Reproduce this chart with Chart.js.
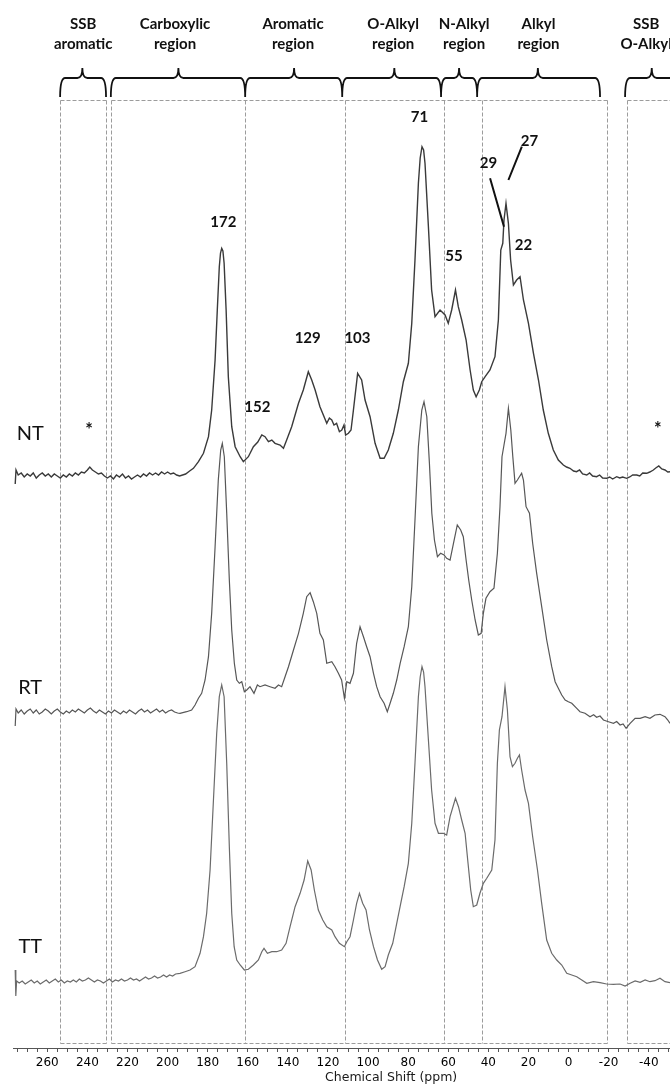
<!DOCTYPE html>
<html>
<head>
<meta charset="utf-8">
<title>13C CPMAS NMR spectra NT / RT / TT</title>
<script src="https://cdn.jsdelivr.net/npm/chart.js@4.4.0/dist/chart.umd.min.js"></script>
<style>
    html, body { margin: 0; padding: 0; background: #fff; }
    #wrap { width: 670px; height: 1090px; position: relative; }
</style>
</head>
<body>
<div id="wrap"><canvas id="nmr-chart"></canvas></div>
<script>
// Axis labels (ppm)
const shiftTicks = [260, 240, 220, 200, 180, 160, 140, 120, 100, 80, 60, 40, 20, 0, -20, -40];

// NT spectrum: chemical shift (ppm) and intensity
const ntShift = [
    276.0, 275.6, 274.5, 273.0, 271.5, 270.0, 268.5, 267.0, 265.5, 264.0,
    262.5, 261.0, 259.5, 258.0, 256.5, 255.0, 253.5, 252.0, 250.5, 249.0,
    247.5, 246.0, 244.5, 243.0, 241.5, 240.0, 238.8, 237.5, 236.0, 234.5,
    233.0, 231.5, 230.0, 228.5, 227.0, 225.5, 224.0, 222.5, 221.0, 219.5,
    218.0, 216.5, 215.0, 213.5, 212.0, 210.5, 209.0, 207.5, 206.0, 204.5,
    203.0, 201.5, 200.0, 198.5, 197.0, 195.5, 194.0, 191.0, 189.0, 187.1,
    184.6, 182.1, 179.6, 178.0, 176.3, 175.2, 174.2, 173.6, 173.0, 172.4, 171.8, 170.8,
    169.7, 168.0, 166.3, 163.8, 162.2, 159.7, 157.2, 155.0, 153.0, 151.4,
    149.7, 148.0, 146.4, 143.9, 142.2, 140.6, 138.1, 134.7, 132.3, 129.8,
    128.1, 126.4, 124.0, 120.6, 119.3, 118.1, 117.0, 115.7, 114.3, 113.1,
    112.0, 111.2, 109.8, 108.5, 107.3, 105.2, 103.2, 101.5, 99.0, 96.5,
    94.0, 92.0, 89.9, 87.4, 84.9, 82.4, 79.9, 78.2, 76.6, 74.9,
    74.0, 73.1, 72.3, 71.6, 69.9, 68.3, 66.6, 64.1, 61.6, 60.0, 58.3, 56.4,
    55.0, 53.3, 51.1, 49.1, 47.5, 46.1, 44.5, 43.3, 41.6, 39.2,
    36.7, 35.0, 33.8, 32.8, 32.2, 31.2, 30.0, 28.9, 27.5, 25.9,
    24.2, 22.5, 20.0, 17.5, 15.0, 12.6, 10.1, 7.6, 5.1, 2.6,
    1.0, -0.7, -2.5, -4.0, -5.5, -7.0, -9.1, -10.5, -12.0, -14.0,
    -15.5, -17.0, -19.0, -20.5, -22.0, -24.0, -25.5, -27.0, -29.0, -30.5,
    -32.0, -34.0, -35.5, -37.0, -39.0, -40.5, -42.3, -43.5, -45.0, -46.5,
    -48.1, -49.5, -50.6
];
const ntIntensity = [
    -8, 6, 1, 3, -1, 2, 0, 3, -2, 1,
    3, 0, 2, -1, 2, 0, -2, 1, -1, 2,
    0, 3, 1, 4, 3, 6, 9, 6, 4, 2,
    3, 0, -2, 0, -3, 1, -1, 2, -2, 0,
    -3, -1, 1, -1, 2, 0, 3, 1, 3, 1,
    4, 2, 4, 2, 3, 1, 0, 2, 5, 7.7,
    14.3, 22.7, 39.3, 66, 116, 166, 209.3, 223, 227.7, 225, 212.7, 166,
    99.3, 49.3, 29.3, 19.3, 14.3, 19.3, 29.3, 34, 41, 39.3,
    34.3, 36, 32.7, 31, 27.7, 36, 49.3, 72.7, 86, 104.3,
    96, 86, 69.3, 52.7, 58, 56, 51, 52.7, 44.3, 46,
    51, 41, 42.7, 46, 66, 102.7, 96, 76, 59.3, 32.7,
    17.7, 17.7, 26, 42.7, 66, 94.3, 112.7, 152.7, 216, 292.7,
    318, 329.3, 326, 312.7, 249.3, 186, 159.3, 166, 161, 152.7, 166, 186,
    169.3, 156, 136, 106, 86, 79.3, 86, 94.3, 99.3, 106,
    119.3, 156, 226, 232.7, 256, 272.7, 252.7, 216, 191, 196,
    199.3, 176, 152.7, 122.7, 96, 66, 42.7, 26, 16, 11,
    9, 7.7, 5, 4.3, 6, 2, 1, 3, 0, -0.7,
    1, -2, -2.3, -1, -3, -0.7, -2, -1, -2.3, -1,
    1, 1, 0, 3, 2.7, 4, 6, 8, 10, 7,
    6, 4, 4.3
];

// RT spectrum
const rtShift = [
    276.0, 275.6, 274.5, 273.0, 271.5, 270.0, 268.5, 267.0, 265.5, 264.0,
    262.5, 261.0, 259.5, 258.0, 256.5, 255.0, 253.5, 252.0, 250.5, 249.0,
    247.5, 246.0, 244.5, 243.0, 241.5, 240.0, 238.5, 237.0, 235.5, 234.0,
    232.5, 231.0, 229.5, 228.0, 226.5, 225.0, 223.5, 222.0, 220.5, 219.0,
    217.5, 216.0, 214.5, 213.0, 211.5, 210.0, 208.5, 207.0, 205.5, 204.0,
    202.5, 201.0, 199.5, 198.0, 196.5, 195.0, 193.8, 190.5, 188.0, 186.3,
    184.6, 183.0, 181.3, 179.6, 178.0, 176.3, 174.7, 173.5, 172.7, 171.7,
    170.5, 169.2, 168.0, 166.7, 165.5, 164.2, 163.0, 161.7, 160.5, 158.9,
    156.9, 155.2, 153.9, 151.4, 148.9, 146.4, 144.7, 143.1, 141.4, 139.7,
    137.2, 134.7, 132.3, 130.6, 128.9, 127.3, 125.6, 124.0, 122.3, 120.6,
    118.1, 116.5, 114.8, 113.2, 111.8, 110.6, 109.0, 107.3, 105.7, 104.0,
    102.3, 100.7, 99.0, 97.3, 95.7, 94.0, 92.0, 90.4, 89.0, 87.4,
    85.7, 84.0, 82.0, 79.9, 78.2, 76.6, 74.9, 73.2, 72.1, 70.7,
    69.4, 68.2, 66.9, 65.4, 63.8, 62.1, 60.8, 59.1, 57.4, 55.5,
    53.8, 52.5, 51.1, 49.8, 48.3, 46.6, 45.0, 43.6, 42.5, 41.2,
    39.2, 37.2, 35.5, 34.2, 33.2, 32.2, 31.2, 30.0, 28.8, 27.8,
    26.7, 25.5, 24.5, 23.4, 22.5, 21.2, 19.5, 17.9, 15.9, 13.4,
    10.9, 8.4, 6.7, 5.1, 3.4, 1.7, 0.1, -1.6, -4.1, -5.7,
    -8.2, -10.7, -12.5, -14.0, -15.7, -17.4, -19.9, -22.4, -24.0, -25.7,
    -27.2, -28.7, -30.7, -33.2, -35.7, -38.2, -40.6, -43.1, -45.6, -48.1,
    -49.5, -50.6
];
const rtIntensity = [
    -14, 3, -1, 2, -2, 1, 3, -1, 2, -2,
    0, 3, 1, -2, 1, 3, 0, -2, 1, -1,
    2, 0, 3, 1, -1, 2, 4, 1, -1, 2,
    0, -2, 1, -1, 2, 0, -2, 1, -1, 2,
    0, -2, 1, 3, 0, 2, -1, 1, 3, 0,
    2, -1, 1, 2, 0, -1, -1.3, 0.3, 2, 7,
    13.7, 18.7, 32, 55.3, 98.7, 165.3, 232, 262, 268.7, 255.3,
    198.7, 132, 82, 48.7, 32, 28.7, 30.3, 20.3, 22, 25.3,
    18.7, 27, 25.3, 27, 25.3, 23.7, 27, 25.3, 35.3, 45.3,
    62, 78.7, 98.7, 115.3, 119.3, 110.3, 98.7, 78.7, 72, 48.7,
    50.3, 45.3, 38.7, 32, 13.7, 30.3, 28.7, 38.7, 68.7, 85.3,
    75.3, 65.3, 55.3, 38.7, 25.3, 15.3, 8.7, 0.3, 8.7, 18.7,
    32, 48.7, 65.3, 85.3, 125.3, 192, 265.3, 302, 310.3, 295.3,
    248.7, 198.7, 172, 155.3, 158.7, 157, 153.7, 152, 168.7, 187,
    182, 175.3, 152, 132, 112, 92, 77, 78.7, 98.7, 113.7,
    120.3, 123.7, 158.7, 205.3, 255.3, 267, 278.7, 303.7, 282, 255.3,
    228.7, 232, 235.3, 238.7, 232, 205.3, 198.7, 168.7, 138.7, 105.3,
    72, 45.3, 30.3, 23.7, 17, 12, 10.3, 8.7, 3.7, 0.3,
    -1.3, -4.7, -2.7, -5.3, -4, -8, -9.7, -11.3, -9.5, -13,
    -12, -16.3, -11.3, -6.3, -6.3, -4.7, -6.3, -3, -2.3, -4.7,
    -8, -11.3
];

// TT spectrum
const ttShift = [
    276.0, 275.7, 275.3, 274.0, 272.5, 271.0, 269.5, 268.0, 266.5, 265.0,
    263.5, 262.0, 260.5, 259.0, 257.5, 256.0, 254.5, 253.0, 251.5, 250.0,
    248.5, 247.0, 245.5, 244.0, 242.5, 241.0, 239.5, 238.0, 236.5, 235.0,
    233.5, 232.0, 230.5, 229.0, 227.5, 226.0, 224.5, 223.0, 221.5, 220.0,
    218.5, 217.0, 215.5, 214.0, 212.5, 211.0, 209.5, 208.0, 206.5, 205.0,
    203.5, 202.0, 200.5, 199.0, 197.5, 196.0, 193.8, 191.3, 188.8, 186.3,
    183.8, 182.1, 180.5, 178.8, 177.2, 175.5, 174.2, 173.0, 171.8, 170.5,
    169.2, 168.0, 166.8, 165.5, 163.8, 161.7, 159.7, 157.2, 154.7, 153.0,
    151.9, 150.2, 148.0, 145.6, 143.1, 140.9, 138.9, 136.4, 133.9, 131.9,
    130.1, 128.4, 126.8, 124.8, 122.6, 120.6, 118.1, 116.5, 114.3, 111.8,
    110.6, 109.0, 107.3, 105.7, 104.3, 102.7, 101.0, 99.3, 97.3, 95.3,
    93.2, 91.5, 89.9, 87.7, 85.7, 83.7, 82.0, 79.9, 78.2, 76.6,
    74.9, 74.0, 73.1, 72.3, 71.6, 69.9, 68.3, 66.6, 64.9, 62.4, 60.8, 59.1,
    56.4, 54.9, 53.3, 51.6, 50.3, 48.8, 47.5, 45.8, 44.2, 42.5,
    40.8, 38.3, 36.7, 35.5, 34.5, 33.2, 31.7, 30.5, 29.2, 28.0,
    26.7, 25.5, 24.5, 23.4, 21.7, 20.0, 17.9, 15.5, 13.4, 10.9,
    8.4, 5.9, 3.4, 0.9, -1.6, -4.1, -6.6, -9.1, -12.4, -15.7,
    -19.0, -22.4, -25.7, -28.2, -30.7, -33.2, -35.7, -38.2, -40.6, -43.1,
    -45.6, -48.1, -50.6
];
const ttIntensity = [
    12, -14, 1, -1, 1, -2, 0, 2, -1, 1,
    -2, 0, 2, -1, 1, 3, 0, 2, -1, 1,
    0, 2, 0, 3, 1, 2, 4, 2, 0, 2,
    1, -1, 1, 3, 0, 2, 1, 3, 1, 2,
    4, 2, 3, 1, 3, 5, 3, 4, 6, 4,
    5, 7, 5, 7, 6, 8, 8.7, 10.3, 12, 15.3,
    28.7, 45.3, 68.7, 112, 178.7, 248.7, 285.3, 297, 285.3, 218.7,
    135.3, 68.7, 35.3, 22, 17, 12, 12.7, 17, 22, 30.3,
    33.7, 28.7, 30.3, 30.3, 32, 38.7, 55.3, 75.3, 88.7, 102,
    121, 112, 92, 72, 62, 55.3, 52, 45.3, 38.7, 35.3,
    40.3, 45.3, 62, 78.7, 88.7, 78.7, 72, 52, 35.3, 22,
    12.7, 15.3, 27, 38.7, 58.7, 78.7, 95.3, 118.7, 158.7, 218.7,
    285.3, 305, 315.3, 310, 295.3, 242, 192, 158.7, 148.7, 148.7, 147, 165.3,
    183.7, 175.3, 162, 148.7, 122, 92, 75.3, 77, 88.7, 98.7,
    103.7, 112, 142, 218.7, 252, 265.3, 295.3, 272, 225.3, 215.3,
    218.7, 223.7, 227, 212, 192, 178.7, 145.3, 112, 78.7, 42,
    28.7, 22, 17, 8.7, 7, 5.3, 2, -1.3, 0.3, -0.7,
    -2, -2.3, -2, -4, -1.3, 1, -0.3, 2, 0.3, 1.3,
    3.7, 0.3, -0.7
];

// Integration regions (ppm): braces, names and dashed boxes
const regionNames = [['SSB', 'aromatic'], ['Carboxylic', 'region'], ['Aromatic', 'region'],
    ['O-Alkyl', 'region'], ['N-Alkyl', 'region'], ['Alkyl', 'region'], ['SSB', 'O-Alkyl']];
const regionFrom = [253.6, 228.3, 161.3, 112.9, 63.6, 45.6, -28.2];
const regionTo = [230.7, 161.3, 112.9, 63.6, 45.6, -15.7, -75];
const braceTip = [242.5, 194.6, 136.9, 86.9, 54.6, 15.3, -41.5];
const regionLabelAt = [242.1, 196.3, 137.4, 87.5, 52.1, 15.0, -38.7];
const boxSpans = [[253.6, 230.7], [228.3, -19.2], [-29.2, -80]];
const boxDividers = [161.3, 111.5, 62.1, 43.1];

// Peak assignments drawn above the NT trace (ppm, chart level)
const peakText = ['172', '152', '129', '103', '71', '55', '29', '27', '22'];
const peakShift = [172.2, 155.2, 130.1, 105.3, 74.4, 57.1, 39.9, 19.5, 22.5];
const peakLevel = [825.7, 640.7, 710.3, 710.3, 930.7, 792, 884.7, 907.3, 803];
const leaderFrom = [[39.15, 869.7], [23.3, 901.3]];
const leaderTo = [[32.2, 821.3], [30.0, 868]];

// Spinning side band marks and trace names
const ssbMarkShift = [239.2, -44.5];
const ssbMarkLevel = [622, 623];
const traceNames = ['NT', 'RT', 'TT'];
const traceLabelLevel = [614, 360, 101];

// Layout
const X_MIN = -50.6, X_MAX = 277.1;
const baselineOffset = [572, 336, 66];
const traceColors = ['#3a3a3a', '#575757', '#6b6b6b'];
const traceWidths = [1.4, 1.2, 1.2];
const BOX_TOP = 100.5, BOX_BOTTOM = 1043.5;
const BRACE_END = 97, BRACE_MID = 78, BRACE_TIP = 68;

const axisTicks = [];
for (let v = -50; v <= 275; v += 5) axisTicks.push(v);

function toPoints(shift, intensity, offset) {
    return shift.map((x, i) => ({ x: x, y: intensity[i] + offset }));
}

function drawBrace(ctx, x1, x2, xt) {
    const r = 5;
    ctx.moveTo(x1, BRACE_END);
    ctx.quadraticCurveTo(x1, BRACE_MID, x1 + r, BRACE_MID);
    ctx.lineTo(xt - r, BRACE_MID);
    ctx.quadraticCurveTo(xt, BRACE_MID, xt, BRACE_TIP);
    ctx.moveTo(xt, BRACE_TIP);
    ctx.quadraticCurveTo(xt, BRACE_MID, xt + r, BRACE_MID);
    ctx.lineTo(x2 - r, BRACE_MID);
    ctx.quadraticCurveTo(x2, BRACE_MID, x2, BRACE_END);
}

const overlayPlugin = {
    id: 'overlay',
    beforeDatasetsDraw(chart) {
        const { ctx, scales: { x } } = chart;
        const px = v => Math.round(x.getPixelForValue(v)) + 0.5;
        ctx.save();
        ctx.strokeStyle = '#9c9c9c';
        ctx.lineWidth = 1;
        ctx.setLineDash([4, 2]);
        ctx.beginPath();
        boxSpans.forEach(([a, b]) => {
            ctx.moveTo(px(a), BOX_TOP);
            ctx.lineTo(px(b), BOX_TOP);
            ctx.moveTo(px(a), BOX_BOTTOM);
            ctx.lineTo(px(b), BOX_BOTTOM);
        });
        boxSpans.flat().concat(boxDividers).forEach(v => {
            ctx.moveTo(px(v), BOX_TOP);
            ctx.lineTo(px(v), BOX_BOTTOM);
        });
        ctx.stroke();
        ctx.restore();
    },
    afterDatasetsDraw(chart) {
        const { ctx, scales: { x, y } } = chart;
        ctx.save();

        // braces + region names
        ctx.strokeStyle = '#111';
        ctx.lineWidth = 1.8;
        ctx.beginPath();
        regionNames.forEach((n, i) => {
            drawBrace(ctx, x.getPixelForValue(regionFrom[i]), x.getPixelForValue(regionTo[i]),
                x.getPixelForValue(braceTip[i]));
        });
        ctx.stroke();

        ctx.fillStyle = '#111';
        ctx.textAlign = 'center';
        ctx.textBaseline = 'middle';
        ctx.font = 'bold 15px Lato';
        regionNames.forEach((lines, i) => {
            const cx = x.getPixelForValue(regionLabelAt[i]);
            ctx.fillText(lines[0], cx, 24);
            ctx.fillText(lines[1], cx, 44);
        });

        // peak labels
        peakText.forEach((t, i) => {
            ctx.fillText(t, x.getPixelForValue(peakShift[i]), y.getPixelForValue(peakLevel[i]));
        });
        ctx.lineWidth = 2;
        ctx.beginPath();
        leaderFrom.forEach((p, i) => {
            ctx.moveTo(x.getPixelForValue(p[0]), y.getPixelForValue(p[1]));
            ctx.lineTo(x.getPixelForValue(leaderTo[i][0]), y.getPixelForValue(leaderTo[i][1]));
        });
        ctx.stroke();

        // SSB marks
        ctx.font = 'bold 18px Lato';
        ctx.textBaseline = 'alphabetic';
        ssbMarkShift.forEach((s, i) => {
            ctx.fillText('*', x.getPixelForValue(s), y.getPixelForValue(ssbMarkLevel[i]) + 10);
        });

        // trace names
        ctx.font = '20px Lato';
        ctx.textBaseline = 'middle';
        traceNames.forEach((t, i) => {
            ctx.fillText(t, x.getPixelForValue(268.5), y.getPixelForValue(traceLabelLevel[i]));
        });

        // axis title
        ctx.font = '12.5px "DejaVu Sans"';
        ctx.fillStyle = '#1a1a1a';
        ctx.fillText('Chemical Shift (ppm)', x.getPixelForValue(88.5), 1078);
        ctx.restore();
    }
};

const spectra = [[ntShift, ntIntensity], [rtShift, rtIntensity], [ttShift, ttIntensity]];

new Chart(document.getElementById('nmr-chart'), {
    type: 'line',
    data: {
        datasets: spectra.map(([s, v], i) => ({
            label: traceNames[i],
            data: toPoints(s, v, baselineOffset[i]),
            borderColor: traceColors[i],
            borderWidth: traceWidths[i],
            pointRadius: 0,
            tension: 0,
            fill: false
        }))
    },
    options: {
        responsive: true,
        maintainAspectRatio: false,
        animation: false,
        events: [],
        layout: { padding: { left: 13, right: 0, top: 0, bottom: 0 } },
        plugins: {
            legend: { display: false },
            tooltip: { enabled: false }
        },
        scales: {
            x: {
                type: 'linear',
                reverse: true,
                min: X_MIN,
                max: X_MAX,
                afterBuildTicks: axis => { axis.ticks = axisTicks.map(v => ({ value: v })); },
                afterFit: axis => { axis.height = 42; },
                grid: { drawOnChartArea: false, drawTicks: true, tickLength: 4, color: '#555' },
                border: { display: true, color: '#555', width: 1 },
                ticks: {
                    autoSkip: false,
                    maxRotation: 0,
                    minRotation: 0,
                    padding: 4,
                    color: '#000',
                    font: { family: 'DejaVu Sans', size: 12 },
                    callback: v => shiftTicks.includes(v) ? String(v) : ''
                }
            },
            y: { display: false, min: 0, max: 1048 }
        }
    },
    plugins: [overlayPlugin]
});
</script>
</body>
</html>
